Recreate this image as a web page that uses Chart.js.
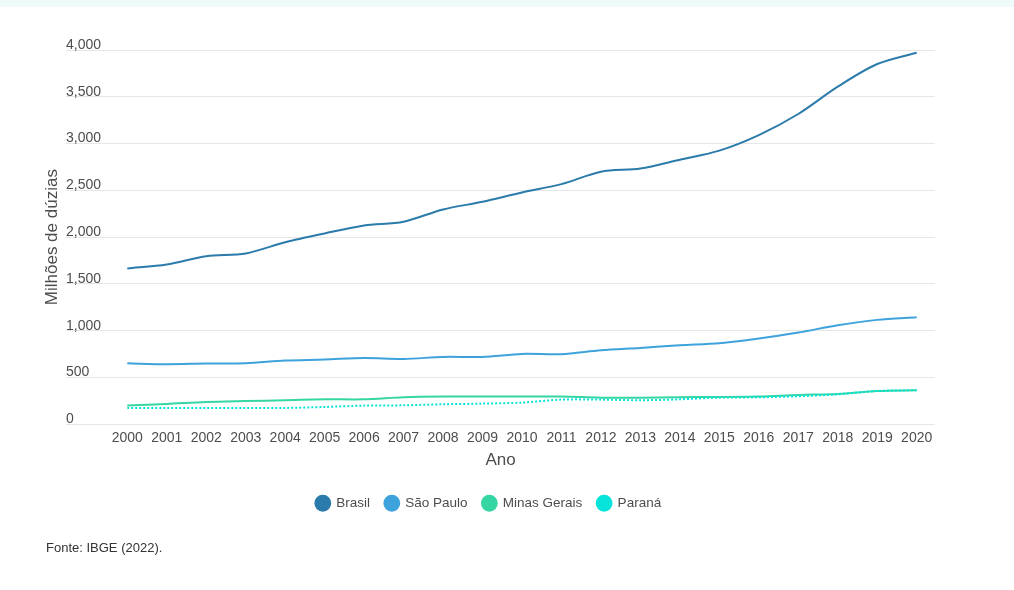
<!DOCTYPE html>
<html>
<head>
<meta charset="utf-8">
<script src="https://cdn.jsdelivr.net/npm/chart.js@4"></script>
<style>
  html, body { margin: 0; padding: 0; background: #ffffff; }
  #wrap { position: relative; width: 1014px; height: 590px; overflow: hidden; }
  #band { position: absolute; left: 0; top: 0; width: 1014px; height: 7px; background: #effbf8; }
  #cv { position: absolute; left: 0; top: 0; }
  #fonte { position: absolute; left: 46px; top: 540px; font-family: "Liberation Sans", Arial, sans-serif; font-size: 13px; color: #333333; }
</style>
</head>
<body>
<div id="wrap">
  <div id="band"></div>
  <canvas id="cv" width="1014" height="590"></canvas>
  <div id="fonte">Fonte: IBGE (2022).</div>
</div>
<script>
const years = [2000, 2001, 2002, 2003, 2004, 2005, 2006, 2007, 2008, 2009, 2010,
               2011, 2012, 2013, 2014, 2015, 2016, 2017, 2018, 2019, 2020];
const brasil = [1665, 1708, 1797, 1826, 1946, 2040, 2125, 2165, 2296, 2378, 2478,
                2567, 2699, 2734, 2828, 2925, 3091, 3316, 3608, 3850, 3971];
const saoPaulo = [652, 642, 649, 652, 681, 692, 709, 699, 720, 720, 752,
                  749, 791, 816, 845, 866, 916, 980, 1059, 1116, 1144];
const minasGerais = [200, 217, 239, 249, 257, 267, 267, 289, 296, 296, 296,
                     296, 285, 285, 289, 292, 296, 314, 324, 356, 364];
const parana = [175, 175, 175, 175, 175, 185, 200, 203, 214, 221, 232,
                264, 264, 257, 267, 285, 289, 299, 321, 356, 364];
const yTicks = [0, 500, 1000, 1500, 2000, 2500, 3000, 3500, 4000];

const FONT = "'Liberation Sans', Arial, sans-serif";
const TXT = '#4d4d4d';

function pts(vals) { return years.map((y, i) => ({ x: y, y: vals[i] })); }

new Chart(document.getElementById('cv'), {
  type: 'line',
  data: {
    datasets: [
      { label: 'Brasil', data: pts(brasil), borderColor: '#2b7bab', backgroundColor: '#2b7bab', borderWidth: 2, order: 4 },
      { label: 'São Paulo', data: pts(saoPaulo), borderColor: '#3ea3dc', backgroundColor: '#3ea3dc', borderWidth: 2, order: 3 },
      { label: 'Minas Gerais', data: pts(minasGerais), borderColor: '#35d6a3', backgroundColor: '#35d6a3', borderWidth: 2, order: 2 },
      { label: 'Paraná', data: pts(parana), borderColor: '#06e3da', backgroundColor: '#06e3da', borderWidth: 2, borderDash: [2, 2], order: 1 }
    ]
  },
  options: {
    responsive: false,
    animation: false,
    devicePixelRatio: 1,
    layout: { padding: { top: 50, left: 42.2, right: 79, bottom: 70 } },
    elements: { point: { radius: 0, hoverRadius: 0 }, line: { tension: 0.3, fill: false } },
    scales: {
      x: {
        type: 'linear',
        min: 1998.447,
        max: 2020.464,
        afterBuildTicks: (axis) => { axis.ticks = years.map(v => ({ value: v })); },
        grid: { display: false, drawTicks: false },
        border: { display: false },
        ticks: {
          autoSkip: false, maxRotation: 0, padding: 5,
          color: TXT, font: { family: FONT, size: 14 },
          callback: (v) => String(v)
        },
        title: { display: true, text: 'Ano', color: TXT, font: { family: FONT, size: 17 }, padding: { top: -1, bottom: 11 } }
      },
      y: {
        min: 0, max: 4000,
        afterBuildTicks: (axis) => { axis.ticks = yTicks.map(v => ({ value: v })); },
        grid: { color: '#e6e6e6', lineWidth: 1, drawTicks: false },
        border: { display: false },
        ticks: {
          mirror: true, padding: 0, labelOffset: -5,
          color: TXT, font: { family: FONT, size: 14 },
          callback: (v) => v.toLocaleString('en-US')
        },
        title: { display: true, text: 'Milhões de dúzias', color: TXT, font: { family: FONT, size: 17 }, padding: { top: 0, bottom: 3.4 } }
      }
    },
    plugins: {
      legend: {
        position: 'bottom',
        labels: {
          usePointStyle: true, pointStyle: 'circle', boxWidth: 13.5, boxHeight: 10.5,
          padding: 15, color: TXT, font: { family: FONT, size: 13.5 },
          sort: (a, b) => a.datasetIndex - b.datasetIndex
        }
      },
      tooltip: { enabled: false }
    }
  }
});
</script>
</body>
</html>
